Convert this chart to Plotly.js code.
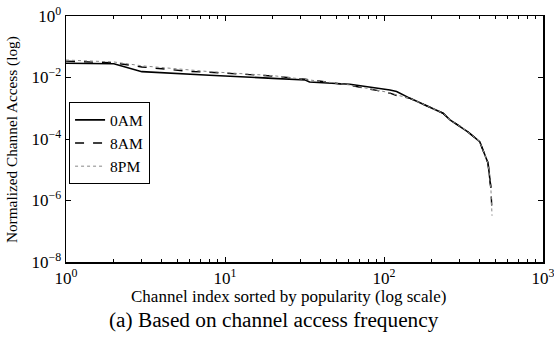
<!DOCTYPE html>
<html>
<head>
<meta charset="utf-8">
<script src="https://cdn.plot.ly/plotly-3.0.1.min.js"></script>
<style>html,body{margin:0;padding:0;background:#fff;}#chart{width:554px;height:337px;}</style>
</head>
<body>
<div id="chart"></div>
<script>
// Series
const x0AM = [1, 2, 3, 6, 8, 20, 32, 34, 46, 61, 109, 120, 146, 235, 260, 315, 337, 400, 419, 436, 451, 464, 470];
const y0AM = [0.029, 0.028, 0.0155, 0.0126, 0.0118, 0.0094, 0.0083, 0.0071, 0.0064, 0.0060, 0.0039, 0.0035, 0.0021, 6.9e-4, 4.2e-4, 2.2e-4, 1.7e-4, 8.2e-5, 4.7e-5, 2.6e-5, 1.66e-5, 5.9e-6, 2.6e-6];

const x8AM = [1, 2, 3, 6, 8, 20, 32, 46, 61, 90, 109, 120, 146, 235, 260, 315, 337, 400, 419, 436, 451, 464, 470, 476];
const y8AM = [0.034, 0.030, 0.022, 0.0158, 0.0148, 0.0112, 0.0088, 0.0068, 0.0056, 0.0038, 0.0031, 0.0026, 0.0021, 6.9e-4, 4.2e-4, 2.2e-4, 1.7e-4, 8.2e-5, 4.7e-5, 2.6e-5, 1.66e-5, 5.9e-6, 2.6e-6, 6.5e-7];

const x8PM = [1, 2, 3, 6, 8, 20, 32, 46, 61, 90, 109, 120, 146, 235, 260, 315, 337, 400, 419, 436, 451, 464, 470, 478];
const y8PM = [0.037, 0.032, 0.024, 0.017, 0.0155, 0.0115, 0.0089, 0.0069, 0.0057, 0.0039, 0.0032, 0.0027, 0.0021, 6.9e-4, 4.2e-4, 2.2e-4, 1.7e-4, 8.2e-5, 4.7e-5, 2.6e-5, 1.66e-5, 5.9e-6, 2.6e-6, 3.2e-7];

const seriesNames = ['0AM', '8AM', '8PM'];
const xTickExp = [0, 1, 2, 3];
const yTickExp = [0, -2, -4, -6, -8];
const xTitle = 'Channel index sorted by popularity (log scale)';
const yTitle = 'Normalized Channel Access (log)';
const caption = '(a) Based on channel access frequency';

const FONT = '"Liberation Serif", serif';
const fmtExp = e => '10<sup>' + (e < 0 ? '\u2212' + (-e) : e) + '</sup>';

const xMinor = [];
for (let d = 0; d < 3; d++) for (let k = 2; k <= 9; k++) xMinor.push(k * Math.pow(10, d));

const traces = [
  {x: x0AM, y: y0AM, name: seriesNames[0], mode: 'lines', line: {color: '#000', width: 1.6, dash: 'solid'}},
  {x: x8AM, y: y8AM, name: seriesNames[1], mode: 'lines', line: {color: '#000', width: 1.4, dash: 'dash'}},
  {x: x8PM, y: y8PM, name: seriesNames[2], mode: 'lines', line: {color: '#888', width: 1, dash: 'dot'}}
];

const layout = {
  width: 554, height: 337,
  margin: {l: 66, r: 11, t: 16, b: 75},
  paper_bgcolor: '#fff', plot_bgcolor: '#fff',
  font: {family: FONT, color: '#000', size: 17},
  showlegend: true,
  legend: {
    x: 0.006, y: 0.65, xanchor: 'left', yanchor: 'top',
    bgcolor: '#fff', bordercolor: '#000', borderwidth: 1.2,
    font: {family: FONT, size: 15.5, color: '#000'},
    itemwidth: 30, tracegroupgap: 0
  },
  xaxis: {
    type: 'log', range: [0, 3],
    tickvals: xTickExp.map(e => Math.pow(10, e)),
    ticktext: xTickExp.map(fmtExp),
    ticklabeloverflow: 'allow',
    ticks: 'inside', ticklen: 5, tickcolor: '#000', tickwidth: 1,
    minor: {tickvals: xMinor, ticks: 'inside', ticklen: 3, tickcolor: '#000', showgrid: false},
    showline: true, linecolor: '#000', linewidth: 1.5, mirror: 'ticks',
    showgrid: false, zeroline: false,
    tickfont: {family: FONT, size: 17}
  },
  yaxis: {
    type: 'log', range: [-8, 0],
    tickvals: yTickExp.map(e => Math.pow(10, e)),
    ticktext: yTickExp.map(fmtExp),
    ticks: 'inside', ticklen: 5, tickcolor: '#000', tickwidth: 1,
    showline: true, linecolor: '#000', linewidth: 1.5, mirror: 'ticks',
    showgrid: false, zeroline: false,
    tickfont: {family: FONT, size: 17}
  },
  annotations: [
    {text: xTitle, xref: 'paper', yref: 'paper', x: 0.466, y: -0.142, xanchor: 'center', yanchor: 'middle',
     showarrow: false, font: {family: FONT, size: 17, color: '#000'}},
    {text: yTitle, xref: 'paper', yref: 'paper', x: -0.113, y: 0.496, xanchor: 'center', yanchor: 'middle',
     textangle: -90, showarrow: false, font: {family: FONT, size: 15.3, color: '#000'}},
    {text: caption, xref: 'paper', yref: 'paper', x: 0.436, y: -0.236, xanchor: 'center', yanchor: 'middle',
     showarrow: false, font: {family: FONT, size: 21.3, color: '#000'}}
  ]
};

Plotly.newPlot('chart', traces, layout, {staticPlot: true, displayModeBar: false});
</script>
</body>
</html>
